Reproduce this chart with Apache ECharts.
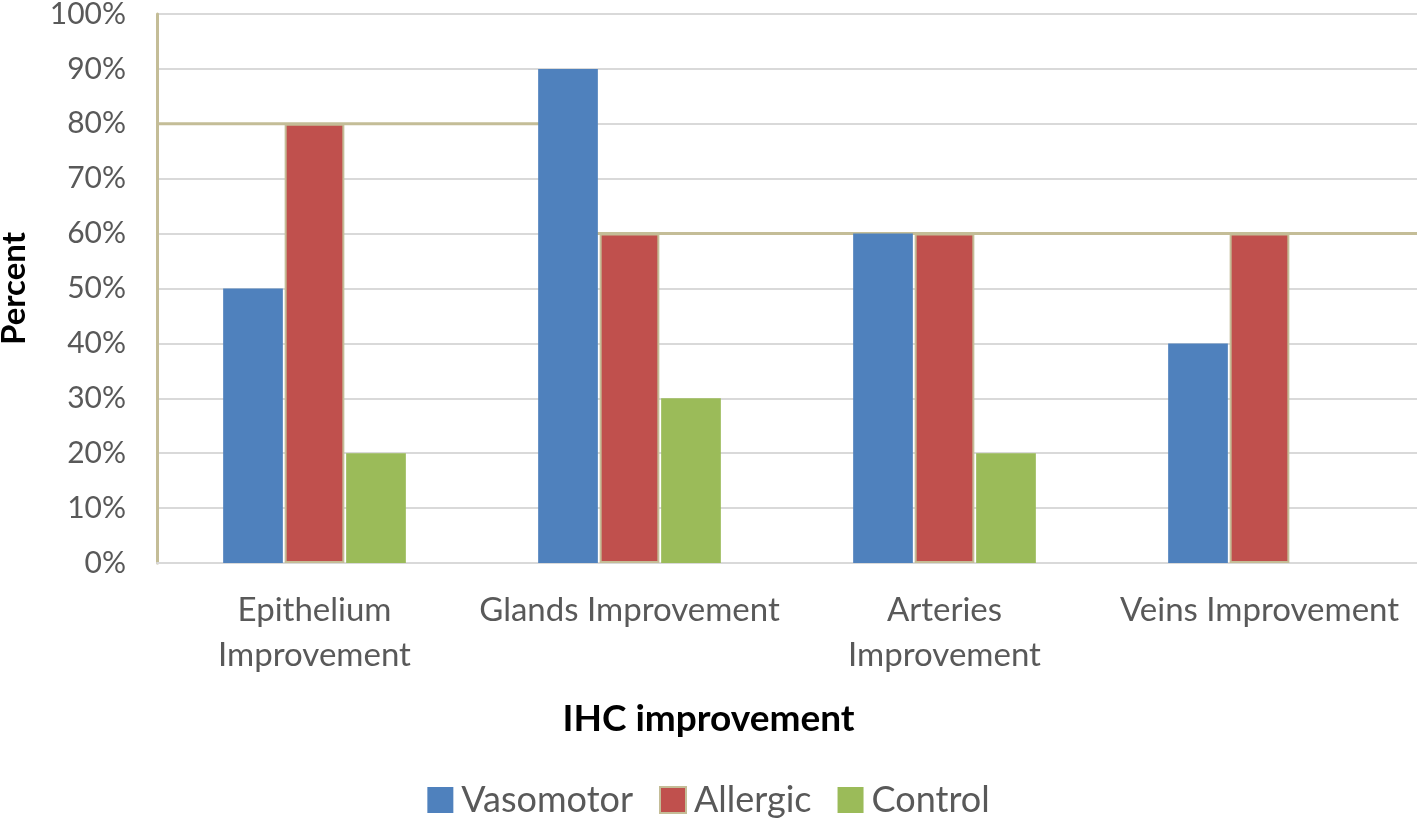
<!DOCTYPE html>
<html><head><meta charset="utf-8">
<script src="https://cdn.jsdelivr.net/npm/echarts@6/dist/echarts.min.js"></script>
<style>html,body{margin:0;padding:0;background:#fff}#c{width:1417px;height:825px}</style>
</head><body><div id="c"></div>
<script>
const categories = ['Epithelium\nImprovement', 'Glands Improvement', 'Arteries\nImprovement', 'Veins Improvement'];
const vasomotor = [50, 90, 60, 40];
const allergic = [80, 60, 60, 60];
const control = [20, 30, 20, null];
const yTicks = [0, 10, 20, 30, 40, 50, 60, 70, 80, 90, 100];
// tan reference line seen behind the bars (x in category units)
const refLine = [[0, 80], [1.3, 80], [1.3, 60], [4, 60]];

const FONT = 'Lato';
const chart = echarts.init(document.getElementById('c'));
chart.setOption({
  animation: false,
  textStyle: { fontFamily: FONT },
  title: {
    text: 'IHC improvement', left: 'center', top: 696,
    textStyle: { fontFamily: FONT, fontSize: 37, fontWeight: 'bold', color: '#000' }
  },
  grid: { left: 157, right: 0, top: 14, bottom: 262, containLabel: false, outerBoundsMode: 'none' },
  legend: {
    bottom: 2, left: 'center', itemWidth: 26, itemHeight: 26, itemGap: 26,
    textStyle: { fontFamily: FONT, fontSize: 36, color: '#595959', padding: [0, 0, 0, 3] },
    data: [
      { name: 'Vasomotor', icon: 'rect' },
      { name: 'Allergic', icon: 'rect', itemStyle: { borderColor: '#c4bd97', borderWidth: 2 } },
      { name: 'Control', icon: 'rect' }
    ]
  },
  xAxis: [{
    type: 'category', data: categories,
    axisLine: { show: true, lineStyle: { color: '#d9d9d9', width: 2 } },
    axisTick: { show: false },
    axisLabel: { fontFamily: FONT, fontSize: 33, color: '#595959', margin: 25, lineHeight: 45, interval: 0 }
  }, {
    type: 'value', min: 0, max: 4, show: false
  }],
  yAxis: {
    type: 'value', min: 0, max: 100, interval: 10,
    name: 'Percent', nameLocation: 'middle', nameGap: 126,
    nameTextStyle: { fontFamily: FONT, fontSize: 33, fontWeight: 'bold', color: '#000' },
    axisLine: { show: true, lineStyle: { color: '#c4bd97', width: 3 } },
    axisTick: { show: false },
    splitLine: { lineStyle: { color: '#d9d9d9', width: 2 } },
    axisLabel: { fontFamily: FONT, fontSize: 30, color: '#595959', margin: 31, formatter: v => v + '%' }
  },
  series: [
    { name: 'Vasomotor', type: 'bar', data: vasomotor, barGap: '3%', barCategoryGap: '42%', z: 3,
      itemStyle: { color: '#4f81bd' } },
    { name: 'Allergic', type: 'bar', data: allergic, z: 3,
      itemStyle: { color: '#c0504d', borderColor: '#c4bd97', borderWidth: 2 } },
    { name: 'Control', type: 'bar', data: control, z: 3,
      itemStyle: { color: '#9bbb59' } },
    { name: 'ref', type: 'line', xAxisIndex: 1, data: refLine, symbol: 'none', z: 1,
      lineStyle: { color: '#c4bd97', width: 3 }, silent: true }
  ]
});
</script></body></html>
